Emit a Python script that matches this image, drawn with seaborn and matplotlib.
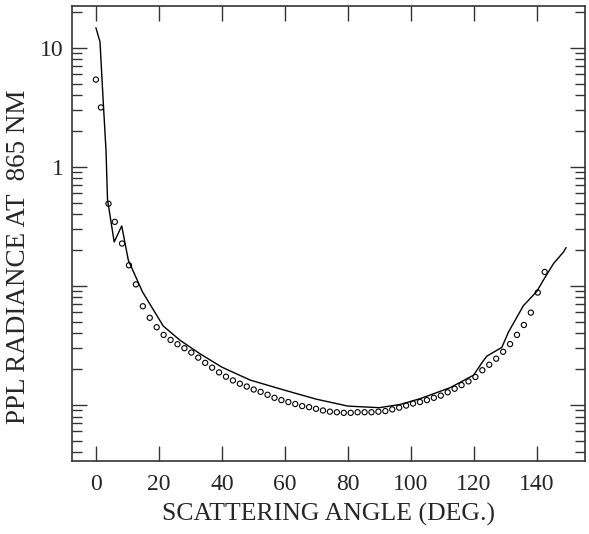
import seaborn as sns
import matplotlib
matplotlib.use('Agg')
import matplotlib.pyplot as plt
import matplotlib.ticker as mticker
import pandas as pd

# model curve (solid line)
line_angle = [0.0, 1.3, 2.3, 3.2, 3.7, 4.0, 5.8, 8.2, 10.3, 14.8, 21.4, 26.7, 33.0,
              40.0, 49.0, 60.0, 70.0, 80.0, 90.0, 96.5, 102.9, 112.5, 119.9, 122.5,
              124.1, 128.9, 131.0, 135.7, 140.0, 142.1, 145.3, 148.5, 149.3]
line_rad = [14.7, 11.2, 3.6, 1.38, 0.52, 0.47, 0.234, 0.319, 0.164, 0.089, 0.046, 0.035, 0.027,
            0.0208, 0.0162, 0.0133, 0.0112, 0.0098, 0.0095, 0.0101, 0.0113, 0.0140, 0.0178, 0.0225,
            0.0257, 0.0305, 0.041, 0.068, 0.090, 0.112, 0.154, 0.193, 0.21]

# measurements (open circles)
obs_angle = [0.0, 1.6, 4.0, 6.0, 8.3, 10.5, 12.7, 14.9, 17.1, 19.3, 21.5, 23.7, 25.9, 28.1,
             30.3, 32.5, 34.7, 36.9, 39.1, 41.3, 43.5, 45.7, 47.9, 50.1, 52.3, 54.5, 56.7,
             58.9, 61.1, 63.3, 65.5, 67.7, 69.9, 72.1, 74.3, 76.5, 78.7, 80.9, 83.1, 85.3,
             87.5, 89.7, 91.9, 94.1, 96.3, 98.5, 100.7, 102.9, 105.1, 107.3, 109.5, 111.7,
             113.9, 116.1, 118.3, 120.5, 122.7, 124.9, 127.1, 129.3, 131.5, 133.7, 135.9,
             138.1, 140.3, 142.5]
obs_rad = [5.4, 3.15, 0.49, 0.345, 0.227, 0.149, 0.103, 0.0675, 0.054, 0.0450, 0.0388, 0.0352,
           0.0324, 0.0300, 0.0276, 0.0250, 0.0226, 0.0206, 0.0188, 0.0173, 0.0161, 0.0151,
           0.0143, 0.0135, 0.0129, 0.0122, 0.0115, 0.0110, 0.0106, 0.0102, 0.0098, 0.0096,
           0.0093, 0.0090, 0.0088, 0.0087, 0.0086, 0.0086, 0.0087, 0.0087, 0.0087, 0.0088,
           0.0089, 0.0092, 0.0095, 0.0099, 0.0103, 0.0106, 0.0110, 0.0115, 0.0120, 0.0128,
           0.0137, 0.0147, 0.0158, 0.0172, 0.0196, 0.0218, 0.0245, 0.0280, 0.0325, 0.0388,
           0.0470, 0.0597, 0.0880, 0.131]

xticks = [0, 20, 40, 60, 80, 100, 120, 140]
xticklabels = ['0', '20', '40', '60', '80', '100', '120', '140']

df_line = pd.DataFrame({'angle': line_angle, 'rad': line_rad})
df_obs = pd.DataFrame({'angle': obs_angle, 'rad': obs_rad})

sns.set_theme(style='ticks')
plt.rcParams['font.family'] = ['Liberation Serif', 'DejaVu Serif']

fig = plt.figure(figsize=(5.89, 5.34), dpi=100)
ax = fig.add_axes([0.1222, 0.1367, 0.8710, 0.8521])

sns.lineplot(data=df_line, x='angle', y='rad', color='black', linewidth=1.0, ax=ax, sort=False)
sns.scatterplot(data=df_obs, x='angle', y='rad', marker='o', s=14, facecolor='none',
                edgecolor='black', linewidth=0.8, ax=ax)

ax.set_yscale('log')
ax.set_ylim(0.00339, 22.4)
ax.set_xlim(-7.6, 155.3)

ax.set_xticks(xticks)
ax.set_xticklabels(xticklabels)
ax.yaxis.set_major_locator(mticker.LogLocator(base=10))
ax.yaxis.set_major_formatter(mticker.FuncFormatter(
    lambda v, p: '10' if abs(v - 10) < 1e-6 else ('1' if abs(v - 1) < 1e-6 else '')))
ax.yaxis.set_minor_locator(mticker.LogLocator(base=10, subs=[2, 3, 4, 5, 6, 7, 8, 9]))
ax.yaxis.set_minor_formatter(mticker.NullFormatter())

ax.tick_params(axis='both', which='major', direction='in', length=11, width=1.0,
               top=True, right=True, labelsize=17, color='#333333')
ax.tick_params(axis='x', which='major', pad=9)
ax.tick_params(axis='y', which='major', pad=6)
ax.tick_params(axis='y', which='minor', direction='in', length=7, width=1.0,
               right=True, color='#333333')

for s in ax.spines.values():
    s.set_color('#333333')
    s.set_linewidth(1.2)

ax.set_xlabel('SCATTERING ANGLE (DEG.)', fontsize=18.5, labelpad=6)
ax.set_ylabel('PPL RADIANCE AT  865 NM', fontsize=19.5)
ax.yaxis.set_label_coords(-0.08, 0.448)

fig.savefig('out.png', dpi=100)
